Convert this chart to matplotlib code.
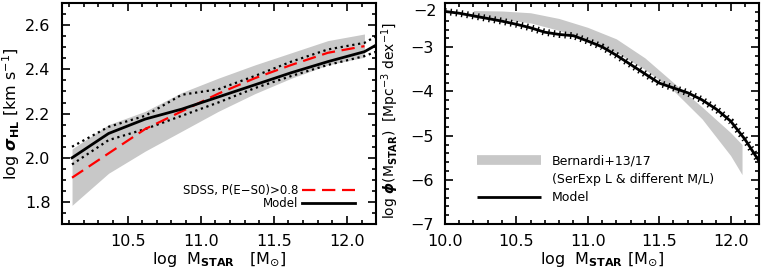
import matplotlib
matplotlib.use("Agg")
import matplotlib.pyplot as plt
from matplotlib.lines import Line2D
from matplotlib.ticker import MultipleLocator

# left panel: sigma_HL vs stellar mass
m_sig = [10.12, 10.37, 10.62, 10.87, 11.12, 11.37, 11.62, 11.87, 12.12, 12.2]
sig_model = [2.00, 2.11, 2.175, 2.22, 2.275, 2.33, 2.385, 2.435, 2.48, 2.51]
sig_model_hi = [2.05, 2.14, 2.19, 2.285, 2.31, 2.37, 2.435, 2.49, 2.52, 2.55]
sig_model_lo = [1.97, 2.08, 2.13, 2.19, 2.25, 2.315, 2.37, 2.42, 2.46, 2.48]
m_sdss = [10.12, 10.37, 10.62, 10.87, 11.12, 11.37, 11.62, 11.87, 12.12]
sig_sdss = [1.91, 2.02, 2.13, 2.21, 2.29, 2.36, 2.42, 2.475, 2.505]
sig_sdss_lo = [1.785, 1.93, 2.03, 2.12, 2.21, 2.29, 2.36, 2.42, 2.455]
sig_sdss_hi = [2.04, 2.15, 2.21, 2.295, 2.36, 2.42, 2.475, 2.53, 2.56]

# right panel: stellar mass function
m_phi = [10.0, 10.1, 10.2, 10.3, 10.4, 10.5, 10.6, 10.7, 10.8, 10.9, 11.0, 11.1,
         11.2, 11.3, 11.4, 11.5, 11.6, 11.7, 11.8, 11.9, 12.0, 12.1, 12.2]
phi_model = [-2.19, -2.23, -2.29, -2.35, -2.41, -2.48, -2.56, -2.66, -2.71, -2.74,
             -2.86, -2.99, -3.18, -3.39, -3.60, -3.81, -3.92, -4.03, -4.19, -4.40,
             -4.67, -5.08, -5.58]
m_bern = [10.2, 10.4, 10.6, 10.8, 11.0, 11.2, 11.4, 11.6, 11.8, 12.0, 12.08]
phi_bern_hi = [-2.17, -2.18, -2.22, -2.35, -2.55, -2.81, -3.24, -3.80, -4.35, -4.93, -5.20]
phi_bern_lo = [-2.33, -2.37, -2.45, -2.62, -2.84, -3.12, -3.50, -3.98, -4.62, -5.45, -5.88]

band = "#c8c8c8"
plt.rcParams["font.size"] = 12

fig = plt.figure(figsize=(7.63, 2.76), dpi=100)
ax1 = fig.add_axes([0.081, 0.188, 0.412, 0.801])
ax2 = fig.add_axes([0.583, 0.188, 0.412, 0.801])

for ax in (ax1, ax2):
    ax.tick_params(which="both", direction="in", top=True, right=True, width=1.2)
    ax.tick_params(which="major", length=6, labelsize=11.5)
    ax.tick_params(which="minor", length=3)
    ax.tick_params(axis="x", which="major", pad=7)
    ax.tick_params(axis="y", which="major", pad=8)
    for s in ax.spines.values():
        s.set_linewidth(1.5)
    ax.xaxis.set_major_locator(MultipleLocator(0.5))
    ax.xaxis.set_minor_locator(MultipleLocator(0.1))
    ax.xaxis.set_major_formatter(plt.FormatStrFormatter("%.1f"))

# left
ax1.fill_between(m_sdss, sig_sdss_lo, sig_sdss_hi, color=band, lw=0)
ax1.plot(m_sig, sig_model_hi, color="k", ls=":", lw=1.6)
ax1.plot(m_sig, sig_model_lo, color="k", ls=":", lw=1.6)
ax1.plot(m_sdss, sig_sdss, color="red", ls=(0, (6, 3)), lw=1.6,
         label="SDSS, P(E\u2212S0)>0.8")
ax1.plot(m_sig, sig_model, color="k", lw=2, label="Model")
ax1.set_xlim(10.05, 12.2)
ax1.set_ylim(1.7, 2.7)
ax1.yaxis.set_major_locator(MultipleLocator(0.2))
ax1.yaxis.set_minor_locator(MultipleLocator(0.05))
ax1.yaxis.set_major_formatter(plt.FormatStrFormatter("%.1f"))
ax1.set_xlabel(r"log  M$_{\mathbf{STAR}}$   [M$_{\odot}$]", labelpad=1, fontsize=11.5)
ax1.set_ylabel(r"log $\boldsymbol{\sigma}_{\mathbf{HL}}$ [km s$^{-1}$]", labelpad=2,
               fontsize=11.5)
ax1.legend(loc="lower right", bbox_to_anchor=(0.96, 0.025), frameon=False,
           markerfirst=False, fontsize=8.5, handlelength=4.5,
           labelspacing=0.05, borderpad=0.2, handletextpad=0.3)

# right
ax2.fill_between(m_bern, phi_bern_lo, phi_bern_hi, color=band, lw=0)
ax2.plot(m_phi, phi_model, color="k", lw=2)
ax2.plot(m_phi, phi_model, color="k", lw=5, ls=(0, (0.2, 0.6)))
ax2.set_xlim(10.0, 12.2)
ax2.set_ylim(-7, -2)
ax2.yaxis.set_major_locator(MultipleLocator(1))
ax2.yaxis.set_minor_locator(MultipleLocator(0.2))
# top label sits just below the frame edge, as in the original
ax2.yaxis.set_major_formatter(
    plt.FuncFormatter(lambda v, p: "" if v > -2.5 else "\u2212%d" % abs(v)))
ax2.text(-0.026, 0.995, "\u22122", transform=ax2.transAxes, ha="right", va="top",
         fontsize=11.5)
ax2.set_xlabel(r"log  M$_{\mathbf{STAR}}$ [M$_{\odot}$]", labelpad=1, fontsize=11.5)
ax2.set_ylabel(r"log $\boldsymbol{\phi}$(M$_{\mathbf{STAR}}$)  [Mpc$^{-3}$ dex$^{-1}$]",
               labelpad=2, fontsize=10)
ax2.yaxis.set_label_coords(-0.14, 0.47)
handles = [Line2D([], [], color=band, lw=7, solid_capstyle="butt"),
           Line2D([], [], color="none"),
           Line2D([], [], color="k", lw=2, solid_capstyle="butt")]
labels = ["Bernardi+13/17", "(SerExp L & different M/L)", "Model"]
ax2.legend(handles, labels, loc="lower left", bbox_to_anchor=(0.075, 0.05),
           frameon=False, fontsize=9, handlelength=5.1, labelspacing=0.45,
           borderpad=0.2, handletextpad=0.9)

fig.savefig("out.png", dpi=100)
